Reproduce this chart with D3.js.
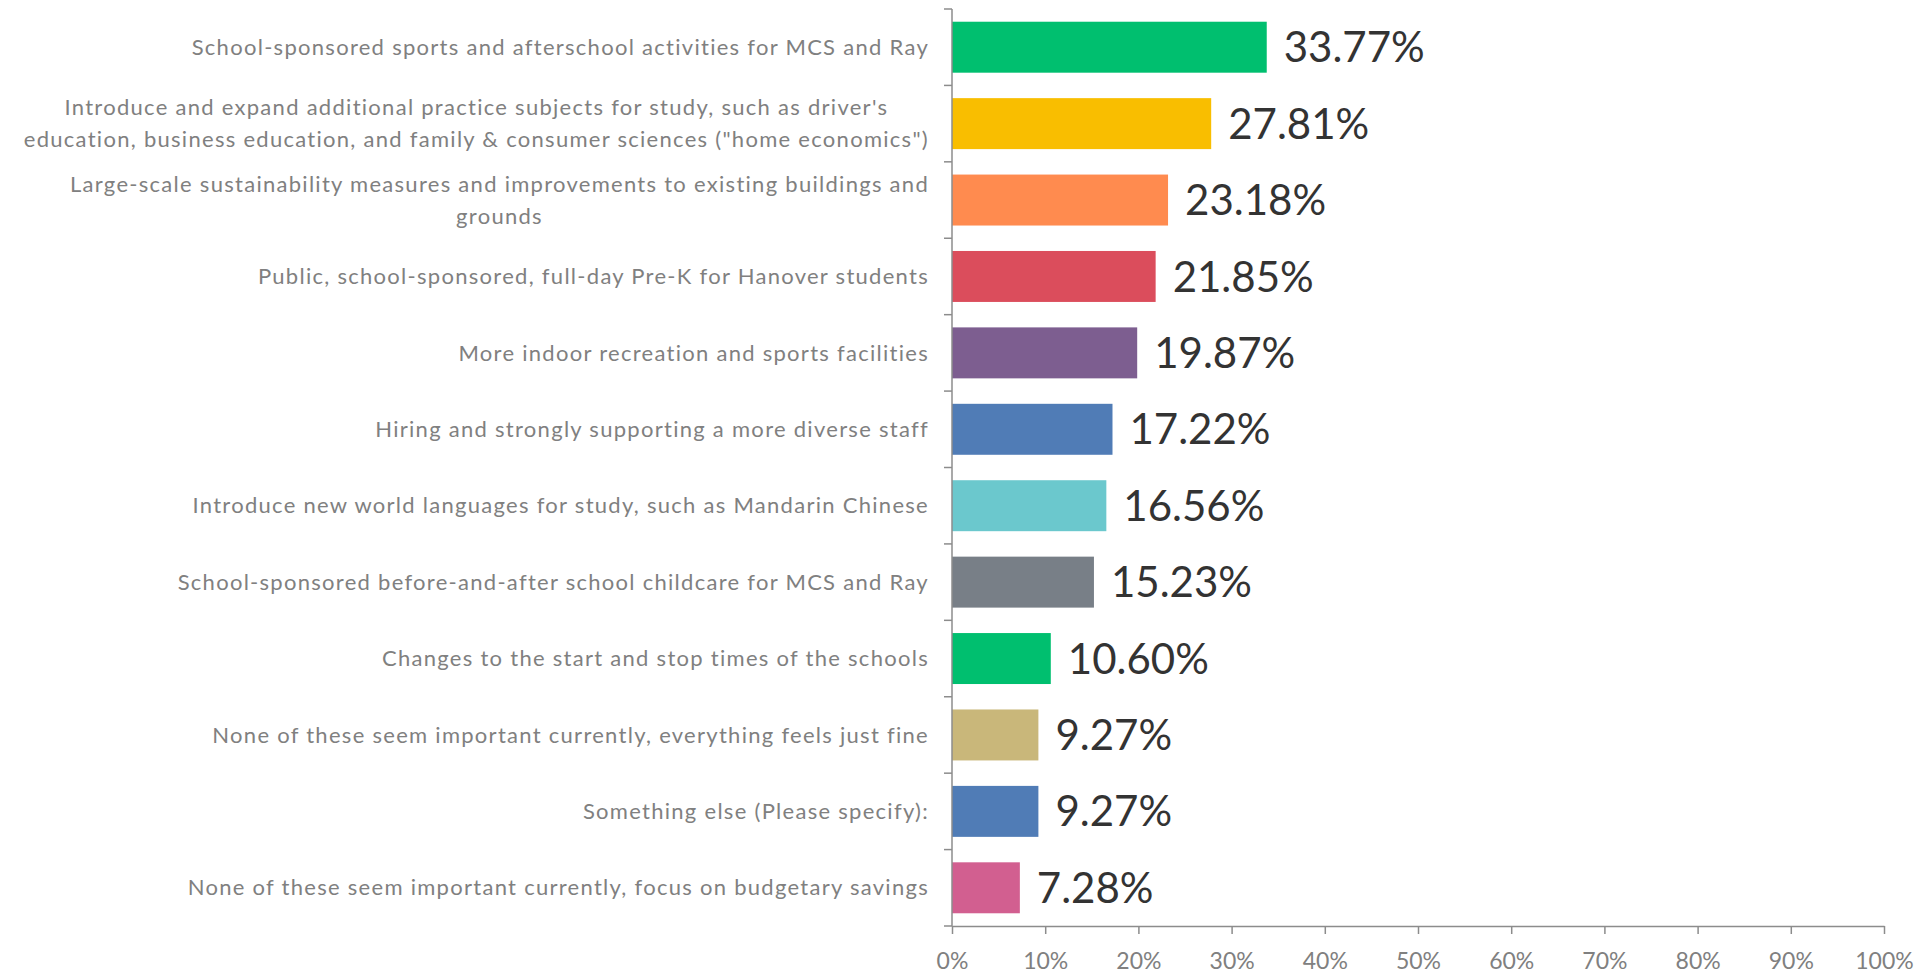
<!DOCTYPE html>
<html>
<head>
<meta charset="utf-8">
<script src="https://cdn.jsdelivr.net/npm/d3@7"></script>
<style>
  html, body { margin: 0; padding: 0; background: #ffffff; }
  svg { display: block; }
</style>
</head>
<body>
<svg id="chart" width="1914" height="974"></svg>
<script>
// Survey responses: share of respondents choosing each option
const categories = [
  "School-sponsored sports and afterschool activities for MCS and Ray",
  "Introduce and expand additional practice subjects for study, such as driver's\neducation, business education, and family & consumer sciences (\"home economics\")",
  "Large-scale sustainability measures and improvements to existing buildings and\ngrounds",
  "Public, school-sponsored, full-day Pre-K for Hanover students",
  "More indoor recreation and sports facilities",
  "Hiring and strongly supporting a more diverse staff",
  "Introduce new world languages for study, such as Mandarin Chinese",
  "School-sponsored before-and-after school childcare for MCS and Ray",
  "Changes to the start and stop times of the schools",
  "None of these seem important currently, everything feels just fine",
  "Something else (Please specify):",
  "None of these seem important currently, focus on budgetary savings"
];
const values = [33.77, 27.81, 23.18, 21.85, 19.87, 17.22, 16.56, 15.23, 10.60, 9.27, 9.27, 7.28];
const barColors = ["#00bf6f", "#f9be00", "#ff8b4f", "#db4d5c", "#7d5e90", "#507cb6",
                   "#6bc8cd", "#787f87", "#00bf6f", "#c9b77a", "#507cb6", "#d25f90"];
const tickValues = [0, 10, 20, 30, 40, 50, 60, 70, 80, 90, 100];

const data = categories.map((c, i) => ({ label: c, value: values[i], color: barColors[i] }));

const svg = d3.select("#chart");
const margin = { left: 952, right: 30, top: 9, bottom: 48 };
const W = 1914, H = 974;

const x = d3.scaleLinear().domain([0, 100]).range([margin.left, 1884]);
const y = d3.scaleBand()
  .domain(data.map((d, i) => i))
  .range([margin.top, H - margin.bottom])
  .paddingInner(0.333)
  .paddingOuter(0.1665);

const axisColor = "#8c8c8c";
const fontFamily = "Lato, 'Noto Sans', sans-serif";

// Bars
svg.append("g").selectAll("rect")
  .data(data)
  .join("rect")
  .attr("x", x(0))
  .attr("y", (d, i) => y(i))
  .attr("width", d => x(d.value) - x(0))
  .attr("height", y.bandwidth())
  .attr("fill", d => d.color);

// Value labels
svg.append("g").selectAll("text")
  .data(data)
  .join("text")
  .attr("x", d => x(d.value) + 17)
  .attr("y", (d, i) => y(i) + y.bandwidth() / 2)
  .attr("dy", "0.36em")
  .attr("font-family", fontFamily)
  .attr("font-size", 42)
  .attr("fill", "#333333")
  .text(d => d.value.toFixed(2) + "%");

// X axis
const xAxis = d3.axisBottom(x)
  .tickValues(tickValues)
  .tickFormat(d => d + "%")
  .tickSize(8)
  .tickSizeOuter(0)
  .tickPadding(19);

const gx = svg.append("g")
  .attr("transform", `translate(0,${H - margin.bottom})`)
  .call(xAxis);
gx.select(".domain").attr("stroke", axisColor).attr("stroke-width", 1.5);
gx.selectAll(".tick line").attr("stroke", axisColor).attr("stroke-width", 1.5);
gx.selectAll(".tick text")
  .attr("font-family", fontFamily)
  .attr("font-size", 23)
  .attr("fill", "#808080");

// Y axis: boundary ticks between categories, labels drawn separately
const yEdge = d3.range(data.length + 1).map(i => margin.top + i * y.step());
const gy = svg.append("g");
gy.append("line")
  .attr("x1", x(0)).attr("x2", x(0))
  .attr("y1", yEdge[0]).attr("y2", yEdge[yEdge.length - 1])
  .attr("stroke", axisColor).attr("stroke-width", 1.5);
gy.selectAll("line.tk")
  .data(yEdge)
  .join("line")
  .attr("class", "tk")
  .attr("x1", x(0) - 8).attr("x2", x(0))
  .attr("y1", d => d).attr("y2", d => d)
  .attr("stroke", axisColor).attr("stroke-width", 1.5);

// Category labels: block right-aligned against the axis, lines centred within the block
const labelRight = x(0) - 23;
const lineGap = 32;
const labelG = svg.append("g")
  .attr("font-family", fontFamily)
  .attr("font-size", 22)
  .attr("letter-spacing", "1.28px")
  .attr("fill", "#808080");

data.forEach((d, i) => {
  const lines = d.label.split("\n");
  const t = labelG.append("text").attr("text-anchor", "middle");
  const cy = y(i) + y.bandwidth() / 2;
  lines.forEach((ln, k) => {
    t.append("tspan")
      .attr("y", cy + (k - (lines.length - 1) / 2) * lineGap)
      .attr("dy", "0.35em")
      .text(ln);
  });
  let maxW = 0;
  t.selectAll("tspan").each(function () {
    maxW = Math.max(maxW, this.getComputedTextLength());
  });
  t.selectAll("tspan").attr("x", labelRight - maxW / 2);
});
</script>
</body>
</html>
